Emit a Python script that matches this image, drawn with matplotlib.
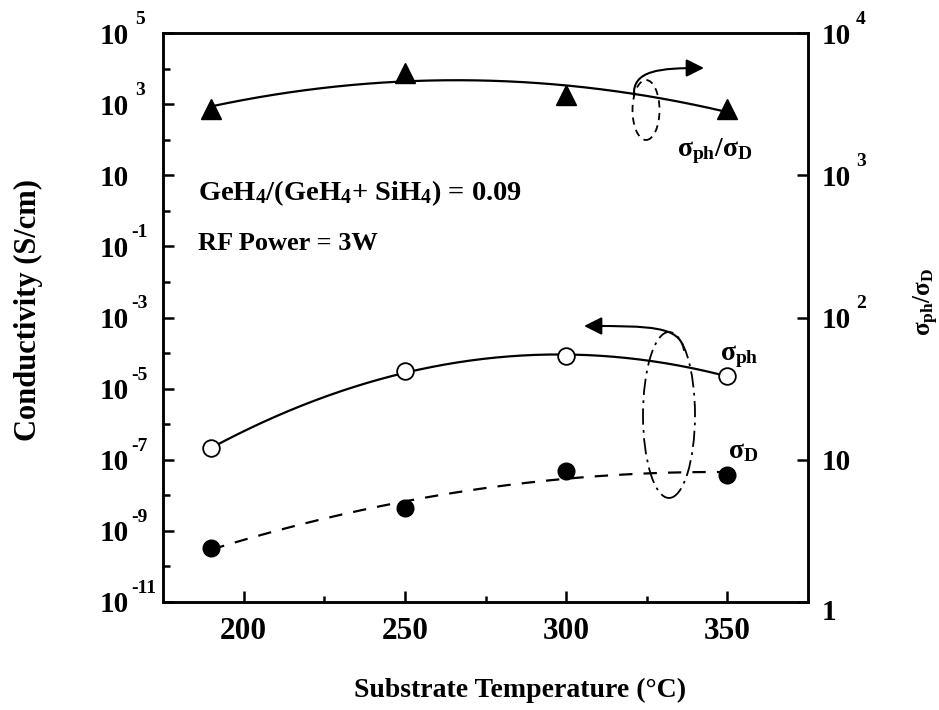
import numpy as np
import matplotlib
matplotlib.use("Agg")
import matplotlib.pyplot as plt
from matplotlib.patches import Ellipse, FancyArrowPatch
from matplotlib.path import Path
from matplotlib.ticker import FixedLocator, NullFormatter
import matplotlib.transforms as mtransforms

plt.rcParams['font.family'] = ['Liberation Serif', 'DejaVu Serif']
plt.rcParams['font.weight'] = 'bold'
plt.rcParams['mathtext.fontset'] = 'custom'
plt.rcParams['mathtext.rm'] = 'Liberation Serif:bold'
plt.rcParams['mathtext.bf'] = 'Liberation Serif:bold'
plt.rcParams['mathtext.it'] = 'Liberation Serif:bold'

# ---- data ----
temps = [190, 250, 300, 350]
sigma_ph = [2.1e-7, 3.1e-5, 8.1e-5, 2.3e-5]
sigma_d = [3.4e-10, 4.3e-9, 4.8e-8, 3.8e-8]
ratio = [2930, 5260, 3670, 2930]

x_ticks = [200, 250, 300, 350]
left_major_exp = [5, 3, 1, -1, -3, -5, -7, -9, -11]
left_minor_exp = [4, 2, 0, -2, -4, -6, -8, -10]
right_major_exp = [0, 1, 2, 3, 4]

W, H, DPI = 939, 710, 100
fig = plt.figure(figsize=(W / DPI, H / DPI), dpi=DPI)

def P(px, py):
    return (px / W, 1 - py / H)

L, R, T, B = 163, 808, 33, 602
ax = fig.add_axes([L / W, 1 - B / H, (R - L) / W, (B - T) / H])
ax2 = ax.twinx()

ax.set_xlim(175, 375)
ax.set_yscale('log')
ax.set_ylim(1e-11, 1e5)
ax2.set_yscale('log')
ax2.set_ylim(1, 1e4)

lw = 1.6
for a in (ax, ax2):
    for s in a.spines.values():
        s.set_linewidth(1.8)

# fits (quadratic in log space)
xf = np.linspace(min(temps), max(temps), 200)
def qfit(y):
    c = np.polyfit(temps, np.log10(y), 2)
    return 10 ** np.polyval(c, xf)

ax.plot(xf, qfit(sigma_ph), color='black', lw=lw, zorder=2)
ax.plot(xf, qfit(sigma_d), color='black', lw=lw, ls=(0, (6, 5)), zorder=2)
ax2.plot(xf, qfit(ratio), color='black', lw=lw, zorder=2)

ax.plot(temps, sigma_ph, 'o', ms=12, mfc='white', mec='black', mew=1.3, zorder=3)
ax.plot(temps, sigma_d, 'o', ms=12, mfc='black', mec='black', zorder=3)
ax2.plot(temps, ratio, '^', ms=14, mfc='black', mec='black', zorder=3)

# ticks
ax.xaxis.set_major_locator(FixedLocator(x_ticks))
ax.xaxis.set_minor_locator(FixedLocator([225, 275, 325]))
ax.tick_params(axis='x', which='major', direction='in', length=8, width=1.8,
               labelsize=22.5, pad=11, top=False)
ax.tick_params(axis='x', which='minor', direction='in', length=4, width=1.8, top=False)
for lab in ax.get_xticklabels():
    lab.set_fontweight('bold')

ax.yaxis.set_major_locator(FixedLocator([10.0 ** e for e in left_major_exp]))
ax.yaxis.set_minor_locator(FixedLocator([10.0 ** e for e in left_minor_exp]))
ax.yaxis.set_major_formatter(NullFormatter())
ax.yaxis.set_minor_formatter(NullFormatter())
ax.tick_params(axis='y', which='major', direction='in', length=8, width=1.8, right=False)
ax.tick_params(axis='y', which='minor', direction='in', length=5, width=1.8, right=False)

ax2.yaxis.set_major_locator(FixedLocator([10.0 ** e for e in right_major_exp]))
ax2.yaxis.set_minor_locator(FixedLocator([]))
ax2.yaxis.set_major_formatter(NullFormatter())
ax2.tick_params(axis='y', which='major', direction='in', length=8, width=1.8)

fs_tick = 21
# left tick labels drawn as base + exponent
tl = mtransforms.blended_transform_factory(fig.transFigure, ax.transData)
off_base = mtransforms.offset_copy(tl, fig=fig, x=0, y=-3, units='dots')
off_exp = mtransforms.offset_copy(tl, fig=fig, x=0, y=5, units='dots')
for e in left_major_exp:
    v = 10.0 ** e
    ax.text(129 / W, v, '10', transform=off_base, ha='right', va='center',
            fontsize=fs_tick, fontweight='bold')
    if e != 1:
        xe = 131 if e < 0 else 135
        ax.text(xe / W, v, str(e), transform=off_exp, ha='left',
                va='bottom', fontsize=14, fontweight='bold')

tr = mtransforms.blended_transform_factory(fig.transFigure, ax2.transData)
off_base_r = mtransforms.offset_copy(tr, fig=fig, x=0, y=-3, units='dots')
off_exp_r = mtransforms.offset_copy(tr, fig=fig, x=0, y=5, units='dots')
for e in right_major_exp:
    v = 10.0 ** e
    if e == 0:
        ax2.text(822 / W, v, '1', transform=mtransforms.offset_copy(tr, fig=fig, x=0, y=-10, units='dots'),
                 ha='left', va='center', fontsize=fs_tick, fontweight='bold')
    else:
        ax2.text(822 / W, v, '10', transform=off_base_r, ha='left', va='center',
                 fontsize=fs_tick, fontweight='bold')
        if e != 1:
            ax2.text(856 / W, v, str(e), transform=off_exp_r, ha='left', va='bottom',
                     fontsize=14, fontweight='bold')

# axis labels
fig.text(*P(520, 690), 'Substrate Temperature (\u00b0C)', ha='center', va='center',
         fontsize=20, fontweight='bold')
fig.text(*P(28, 310), 'Conductivity (S/cm)', ha='center', va='center', rotation=90,
         fontsize=22, fontweight='bold')
fig.text(*P(926, 302), r'$\sigma_{ph}/\sigma_{D}$', ha='center', va='center', rotation=90,
         fontsize=18)

# annotations
fig.text(*P(198, 193), r'GeH$_4$/(GeH$_4$+ SiH$_4$) = 0.09', ha='left', va='center',
         fontsize=20.5, fontweight='bold')
fig.text(*P(198, 243), 'RF Power = 3W', ha='left', va='center',
         fontsize=19, fontweight='bold')
fig.text(*P(715, 151), r'$\sigma_{ph}/\sigma_{D}$', ha='center', va='center', fontsize=20)
fig.text(*P(739, 357), r'$\sigma_{ph}$', ha='center', va='center', fontsize=20)
fig.text(*P(743, 452), r'$\sigma_{D}$', ha='center', va='center', fontsize=20)

# ellipses
e1 = Ellipse(P(646, 110), 27 / W, 60 / H, transform=fig.transFigure, fill=False,
             ec='black', lw=1.3, ls=(0, (4, 3)))
fig.add_artist(e1)
e2 = Ellipse(P(669, 415), 52 / W, 166 / H, transform=fig.transFigure, fill=False,
             ec='black', lw=1.3, ls=(0, (9, 3, 1.5, 3)))
fig.add_artist(e2)

def curved_arrow(pts):
    verts = [P(*p) for p in pts]
    codes = [Path.MOVETO, Path.CURVE4, Path.CURVE4, Path.CURVE4]
    a = FancyArrowPatch(path=Path(verts, codes), arrowstyle='-|>,head_length=0.9,head_width=0.45',
                        mutation_scale=12, color='black', lw=1.5,
                        transform=fig.transFigure)
    fig.add_artist(a)

curved_arrow([(634, 96), (632, 70), (660, 68), (704, 68)])
curved_arrow([(684, 350), (680, 326), (650, 326), (584, 326)])

fig.savefig('out.png', dpi=DPI)
